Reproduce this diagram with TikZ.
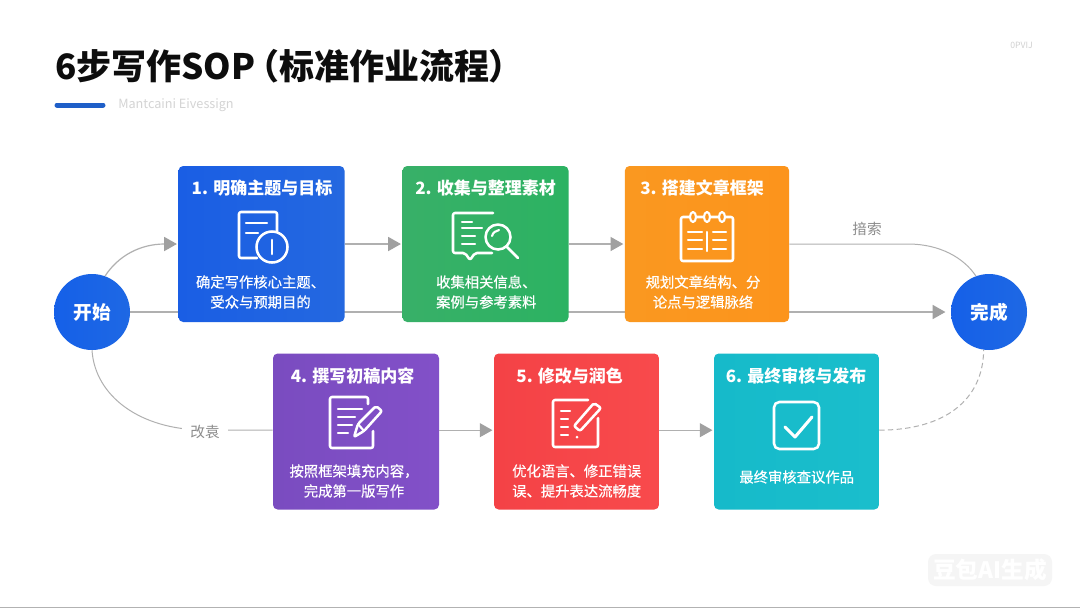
\documentclass[tikz,border=0pt]{standalone}
\usepackage{fontspec}
\newfontfamily\cjk{Noto Sans CJK SC}
\newfontfamily\cjkmed[RawFeature={embolden=0.5}]{Noto Sans CJK SC}
\usetikzlibrary{arrows.meta,calc}
\definecolor{linegray}{HTML}{B0B0B0}
\definecolor{tipgray}{HTML}{A0A0A0}
\definecolor{labelgray}{HTML}{8C8C8C}
\definecolor{accentblue}{HTML}{1F5FC8}
\definecolor{circleA}{HTML}{1560E8}
\definecolor{circleB}{HTML}{1E68E4}
\tikzset{
  stepbox/.style={rectangle,rounded corners=3.5pt,minimum width=124.5pt,minimum height=117pt,inner sep=0pt,draw=none},
  endcircle/.style={circle,minimum size=57pt,inner sep=0pt,draw=none,left color=circleA,right color=circleB,text=white,font=\cjk\bfseries\fontsize{14}{16}\selectfont},
  cardtitle/.style={text=white,inner sep=0pt,font=\cjk\bfseries\fontsize{12.75}{15}\selectfont},
  carddesc/.style={text=white,inner sep=0pt,align=center,font=\cjkmed\fontsize{10.75}{15}\selectfont},
  flow/.style={draw=linegray,line width=0.9pt,-{Triangle[length=9.5pt,width=10.5pt,color=tipgray]},shorten >=1pt},
  plainflow/.style={draw=linegray,line width=0.75pt},
  glyph/.style={draw=white,line width=1.9pt,line cap=round,line join=round,rounded corners=1.5pt,fill=none},
  fineglyph/.style={glyph,line width=1.6pt},
  pathlabel/.style={text=labelgray,font=\cjk\fontsize{11}{13}\selectfont},
}
\begin{document}
\begin{tikzpicture}[x=0.75pt,y=-0.75pt]
\useasboundingbox (0,0) rectangle (1080,608);
\fill[white] (0,0) rectangle (1080,608);
\fill[black!30] (0,606.5) rectangle (1080,608);

% title
\node[anchor=west,inner sep=0pt,text=black!95,font=\cjk\bfseries\fontsize{26.25}{30}\selectfont] (title) at (55,66) {6步写作SOP\hspace{-8pt}（标准作业流程\hspace{-1pt}）};
\draw[line width=3.75pt,line cap=round,color=accentblue] (57,105) -- (103,105);
\node[anchor=west,inner sep=0pt,text=black!17,font=\cjk\fontsize{9.5}{11}\selectfont] (subtitle) at (118,105.5) {Mantcaini Eivessign};
\node[anchor=east,inner sep=0pt,text=black!18,font=\cjk\fontsize{6.5}{7}\selectfont] (tag) at (1033,45) {0PVIJ};

% end circles
\node[endcircle] (start) at (92,312) {开始};
\node[endcircle] (finish) at (989,312) {完成};
\draw[flow,shorten >=4pt] (start.east) -- (finish.west);

% cards
\node[stepbox,left color={rgb,255:red,26;green,94;blue,228},right color={rgb,255:red,36;green,104;blue,224}] (b1) at (261.5,244) {};
\node[stepbox,left color={rgb,255:red,56;green,176;blue,104},right color={rgb,255:red,44;green,178;blue,98}] (b2) at (485.5,244) {};
\node[stepbox,minimum width=123.2pt,left color={rgb,255:red,250;green,152;blue,32},right color={rgb,255:red,252;green,148;blue,28}] (b3) at (707,244) {};
\node[stepbox,left color={rgb,255:red,122;green,76;blue,192},right color={rgb,255:red,130;green,80;blue,200}] (b4) at (356,431.5) {};
\node[stepbox,minimum width=123.7pt,left color={rgb,255:red,244;green,66;blue,70},right color={rgb,255:red,248;green,74;blue,76}] (b5) at (576.5,431.5) {};
\node[stepbox,minimum width=123.7pt,left color={rgb,255:red,22;green,186;blue,202},right color={rgb,255:red,26;green,190;blue,204}] (b6) at (796.5,431.5) {};

% connectors
\draw[flow] (start.70) .. controls (118,256) and (140,244) .. (b1.west);
\draw[flow] (b1.east) -- (b2.west);
\draw[flow] (b2.east) -- (b3.west);
\draw[plainflow] (b3.east) -- (908,244) .. controls (940,244) and (964,258) .. (finish.110);
\coordinate (lowbend) at (205,430);
\draw[plainflow] (start.south) .. controls (95,396) and (140,430) .. (lowbend) -- (b4.west |- lowbend);
\node[pathlabel,fill=white,inner xsep=6.5pt,inner ysep=2pt,yshift=-1.5pt] (lowlabel) at (lowbend) {改袁};
\node[pathlabel] (toplabel) at (867,229) {揞索};
\draw[flow] ([yshift=1pt]b4.east) -- ([yshift=1pt]b5.west);
\draw[flow] ([yshift=1pt]b5.east) -- ([yshift=1pt]b6.west);
\draw[plainflow,dashed,dash pattern=on 4pt off 2.5pt] ([yshift=1pt]b6.east) .. controls (945,430) and (983,400) .. (finish.262);

% card text
\node[cardtitle] (t1) at (262,188) {1. 明确主题与目标};
\node[carddesc] (d1) at (260.5,292) {确定写作核心主题、\\受众与预期目的};
\node[cardtitle] (t2) at (485.5,188) {2. 收集与整理素材};
\node[carddesc] (d2) at (486.3,292) {收集相关信息、\\案例与参考素料};
\node[cardtitle] (t3) at (702,188) {3. 搭建文章框架};
\node[carddesc] (d3) at (703,292) {规划文章结构、分\\论点与逻辑脉络};
\node[cardtitle] (t4) at (352.5,375.5) {4. 撰写初稿内容};
\node[carddesc] (d4) at (354,481) {按照框架填充内容，\\完成第一版写作};
\node[cardtitle] (t5) at (569.7,375.5) {5. 修改与润色};
\node[carddesc] (d5) at (576.7,481) {优化语言、修正错误\\误、提升表达流畅度};
\node[cardtitle] (t6) at (796,375.5) {6. 最终审核与发布};
\node[carddesc] (d6) at (796.7,477) {最终审核查议作品};

% icon 1
\draw[glyph] (257,258) -- (239,258) -- (239,212) -- (277,212) -- (277,231);
\draw[fineglyph] (246,223) -- (267,223) (246,233) -- (258,233);
\draw[glyph] (272,247) circle (15.5);
\draw[glyph] (272,240) -- (272,254);
% icon 2
\draw[glyph] (493,213) -- (453,213) -- (453,253) -- (465,253) -- (470,260) -- (475,253) -- (492,253);
\draw[fineglyph] (462,222) -- (472,222) (462,228) -- (482,228) (462,236) -- (475,236) (462,244) -- (475,244);
\draw[glyph] (498,237) circle (12.5);
\draw[glyph] (507,247) -- (518,258);
\draw[fineglyph] (492,236) .. controls (493,232) and (496,231) .. (499,230);
% icon 3
\draw[glyph] (681,217) rectangle (733,261);
\foreach \cx/\nm in {693/ra,707/rb,722/rc}{
  \draw[fineglyph,fill={rgb,255:red,251;green,150;blue,30}] (\cx,217) ellipse (3 and 5);
}
\draw[fineglyph] (707,232) -- (707,251);
\draw[fineglyph] (688,232) -- (702,232) (688,240) -- (702,240) (688,249) -- (702,249);
\draw[fineglyph] (713,232) -- (726,232) (713,240) -- (726,240) (713,249) -- (726,249);
% icon 4
\draw[glyph] (368,404) -- (368,397) -- (330,397) -- (330,448) -- (373,448) -- (373,431);
\draw[fineglyph] (338,409) -- (362,409) (338,417) -- (355,417) (338,425) -- (352,425) (338,433) -- (348,433);
\draw[glyph] (354,437) -- (358,424) -- (376,406) -- (382,411) -- (364,431) -- cycle;
\draw[fineglyph] (358,424) -- (364,431);
% icon 5
\draw[glyph] (588,400) -- (553,400) -- (553,447) -- (598,447) -- (598,418);
\draw[fineglyph] (561,411) -- (570,411) (561,419) -- (568,419) (561,427) -- (568,427) (561,435) -- (568,435);
\draw[glyph] (574,426) -- (594,403) -- (601,408) -- (580,431) -- cycle;
\fill[white] (577,437) circle (1.5);
% icon 6
\draw[glyph,rounded corners=4pt] (774,402) rectangle (819,449);
\draw[glyph,rounded corners=0pt,line width=2.3pt] (785,427) -- (795,437) -- (812,417);

% watermark
\fill[black!4,rounded corners=6pt] (928,554) rectangle (1052,586);
\node[text=white,inner sep=0pt,font=\cjk\bfseries\fontsize{17}{20}\selectfont] (mark) at (990,569.5) {豆包AI生成};
\end{tikzpicture}
\end{document}
